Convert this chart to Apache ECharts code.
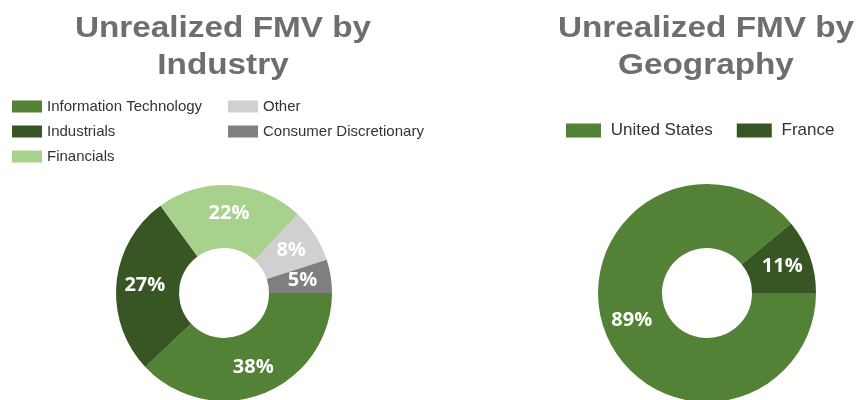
<!DOCTYPE html>
<html>
<head>
<meta charset="utf-8">
<script src="https://cdn.jsdelivr.net/npm/echarts@6/dist/echarts.min.js"></script>
<style>
  html, body { margin: 0; padding: 0; background: #fff; }
  #chart { width: 859px; height: 400px; }
</style>
</head>
<body>
<div id="chart"></div>
<script>
// data
var industryNames = ['Information Technology', 'Industrials', 'Financials', 'Other', 'Consumer Discretionary'];
var industryValues = [38, 27, 22, 8, 5];
var industryColors = ['#538135', '#375623', '#a9d18e', '#d0d0d0', '#7f7f7f'];

var geoNames = ['United States', 'France'];
var geoValues = [89, 11];
var geoColors = ['#538135', '#375623'];

(function () {
    var myChart = echarts.init(document.getElementById('chart'));

    function pieData(names, values, colors) {
        return names.map(function (n, i) {
            return { name: n, value: values[i], itemStyle: { color: colors[i] } };
        });
    }

    // title lines drawn as graphic text (font is a bit wide in the reference)
    function titleLine(text, x, y) {
        return {
            type: 'text',
            x: x,
            y: y,
            scaleX: 1.11,
            style: {
                text: text,
                x: 0,
                y: 0,
                fill: '#6e6e6e',
                font: 'bold 30px "Liberation Sans", Arial, sans-serif',
                textAlign: 'center',
                textVerticalAlign: 'middle'
            }
        };
    }

    var labelStyle = {
        show: true,
        position: 'inside',
        color: '#fff',
        fontSize: 20,
        fontWeight: 'bold',
        fontFamily: '"Open Sans", sans-serif',
        formatter: function (p) { return p.value + '%'; }
    };

    var legendText = { color: '#333', fontSize: 15, fontFamily: '"Liberation Sans", Arial, sans-serif' };

    var option = {
        animation: false,
        graphic: [
            titleLine('Unrealized FMV by', 223, 28.5),
            titleLine('Industry', 223, 65.5),
            titleLine('Unrealized FMV by', 706, 28.5),
            titleLine('Geography', 706, 65.5)
        ],
        legend: [{
            // industry legend, first column
            orient: 'vertical',
            left: 7,
            top: 94,
            itemWidth: 30,
            itemHeight: 12,
            itemGap: 10,
            icon: 'rect',
            data: ['Information Technology', 'Industrials', 'Financials'],
            textStyle: legendText
        }, {
            // second column
            orient: 'vertical',
            left: 223,
            top: 94,
            itemWidth: 30,
            itemHeight: 12,
            itemGap: 10,
            icon: 'rect',
            data: ['Other', 'Consumer Discretionary'],
            textStyle: legendText
        }, {
            orient: 'horizontal',
            left: 561,
            top: 117,
            itemWidth: 35,
            itemHeight: 14,
            itemGap: 24,
            icon: 'rect',
            formatter: ' {name}',
            data: geoNames,
            textStyle: { color: '#333', fontSize: 17, fontFamily: '"Liberation Sans", Arial, sans-serif' }
        }],
        series: [{
            name: 'Industry',
            type: 'pie',
            center: [224, 293],
            radius: [45, 108],
            startAngle: 0,
            clockwise: true,
            avoidLabelOverlap: false,
            label: labelStyle,
            labelLine: { show: false },
            data: pieData(industryNames, industryValues, industryColors)
        }, {
            name: 'Geography',
            type: 'pie',
            center: [707, 293],
            radius: [45, 109],
            startAngle: 0,
            clockwise: true,
            avoidLabelOverlap: false,
            label: labelStyle,
            labelLine: { show: false },
            data: pieData(geoNames, geoValues, geoColors)
        }]
    };

    myChart.setOption(option);
})();
</script>
</body>
</html>
